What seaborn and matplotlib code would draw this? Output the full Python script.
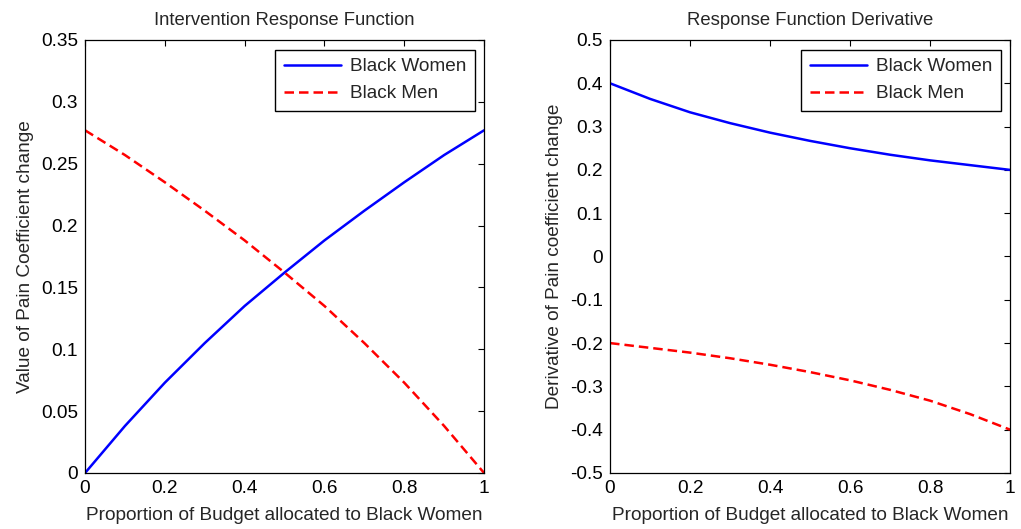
import matplotlib
matplotlib.use("Agg")
import matplotlib.pyplot as plt
from matplotlib.ticker import FuncFormatter, MultipleLocator
import numpy as np
import pandas as pd
import seaborn as sns

# Budget share going to Black Women
proportion = [0.0, 0.1, 0.2, 0.3, 0.4, 0.5, 0.6, 0.7, 0.8, 0.9, 1.0]

# Response (change in pain coefficient)
women_response = [0.000, 0.038, 0.073, 0.105, 0.135, 0.162, 0.188, 0.212, 0.235, 0.257, 0.277]
men_response = [0.277, 0.257, 0.235, 0.212, 0.188, 0.162, 0.135, 0.105, 0.073, 0.038, 0.000]

# Derivative of the response
women_deriv = [0.400, 0.364, 0.333, 0.308, 0.286, 0.267, 0.250, 0.235, 0.222, 0.211, 0.200]
men_deriv = [-0.200, -0.211, -0.222, -0.235, -0.250, -0.267, -0.286, -0.308, -0.333, -0.364, -0.400]

series_labels = ["Black Women", "Black Men"]
titles = ["Intervention Response Function", "Response Function Derivative"]
xlabel = "Proportion of Budget allocated to Black Women"
ylabels = ["Value of Pain Coefficient change", "Derivative of Pain coefficient change"]

sns.set_style("white")
plt.rcParams["font.family"] = ["Liberation Sans", "DejaVu Sans"]
plt.rcParams["xtick.direction"] = "in"
plt.rcParams["ytick.direction"] = "in"

fig = plt.figure(figsize=(10.21, 5.29), dpi=100)
ax1 = fig.add_axes([0.0833, 0.1059, 0.3908, 0.8185])
ax2 = fig.add_axes([0.5975, 0.1059, 0.3918, 0.8185])

panels = [
    (ax1, women_response, men_response, (0, 0.35), 0.05),
    (ax2, women_deriv, men_deriv, (-0.5, 0.5), 0.1),
]

fmt = FuncFormatter(lambda v, _: "%g" % round(v, 6))
FS = 13.7

for i, (ax, w, m, ylim, step) in enumerate(panels):
    df = pd.DataFrame({
        "x": proportion * 2,
        "y": w + m,
        "group": [series_labels[0]] * len(w) + [series_labels[1]] * len(m),
    })
    sns.lineplot(
        data=df, x="x", y="y", hue="group", style="group",
        palette={series_labels[0]: "#0000ff", series_labels[1]: "#ff0000"},
        dashes={series_labels[0]: "", series_labels[1]: (3.8, 2.0)},
        linewidth=1.8, ax=ax, legend=True,
    )
    ax.set_xlim(0, 1)
    ax.set_ylim(*ylim)
    ax.xaxis.set_major_locator(MultipleLocator(0.2))
    ax.yaxis.set_major_locator(MultipleLocator(step))
    ax.xaxis.set_major_formatter(fmt)
    ax.yaxis.set_major_formatter(fmt)
    ax.tick_params(axis="both", which="both", direction="in", length=4, width=0.8,
                   top=True, right=True, labelsize=FS, colors="black", pad=5)
    for s in ax.spines.values():
        s.set_visible(True)
        s.set_color("black")
        s.set_linewidth(0.9)
    ax.set_title(titles[i], fontsize=13.3, pad=11)
    ax.set_xlabel(xlabel, fontsize=FS, labelpad=7)
    ax.set_ylabel(ylabels[i], fontsize=FS, labelpad=5)
    leg = ax.legend(loc="upper right", fontsize=FS, frameon=True, fancybox=False,
                    edgecolor="black", framealpha=1, borderaxespad=0.5,
                    handlelength=3.0, handletextpad=0.45, borderpad=0.45,
                    labelspacing=0.5)
    leg.get_frame().set_linewidth(1.0)
    leg.set_title(None)

fig.savefig("out.png", dpi=100)
